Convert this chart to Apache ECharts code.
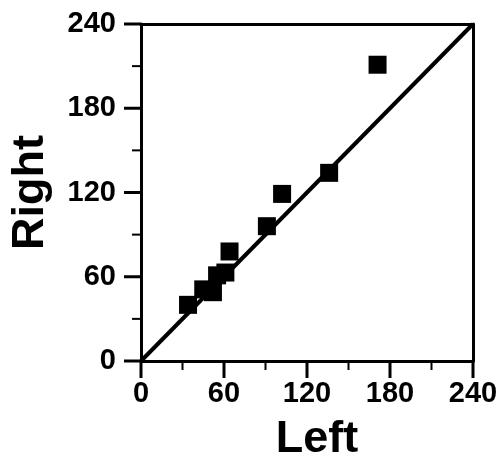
<!DOCTYPE html>
<html>
<head>
<meta charset="utf-8">
<script src="https://cdn.jsdelivr.net/npm/echarts@6/dist/echarts.min.js"></script>
<style>html,body{margin:0;padding:0;background:#fff}#c{width:504px;height:470px}</style>
</head>
<body>
<div id="c"></div>
<script>
const leftValues  = [34, 45, 52, 55, 61, 64, 91, 102, 136, 171];
const rightValues = [40, 51, 49, 61, 63, 78, 96, 119, 134, 211];
const identityLine = [[0, 0], [240, 240]];
const majorTicks = [0, 60, 120, 180, 240];
const minorTicks = [30, 90, 150, 210];
const axisMin = 0, axisMax = 240, axisStep = 60;
const xName = 'Left', yName = 'Right';

const points = leftValues.map((v, i) => [v, rightValues[i]]);
const font = '"Liberation Sans", Arial, Helvetica, sans-serif';

function axis(name, isX) {
  return {
    type: 'value', min: axisMin, max: axisMax, interval: axisStep,
    name: name, nameLocation: 'middle',
    nameGap: isX ? 56 : 88,
    nameTextStyle: {
      fontFamily: font, fontWeight: 'bold', fontSize: 45, color: '#000',
      padding: isX ? [0, 0, 0, 20] : [0, 0, 0, 0]
    },
    axisLine: { show: true, onZero: false, lineStyle: { color: '#000', width: 3 } },
    axisTick: { show: false },
    minorTick: { show: false },
    axisLabel: {
      fontFamily: font, fontWeight: 'bold', fontSize: 29, color: '#000',
      margin: isX ? 18 : 25,
      backgroundColor: 'transparent', textBorderWidth: 0, padding: 0
    },
    splitLine: { show: false }
  };
}

function frameAxis(position) {
  return {
    type: 'value', min: axisMin, max: axisMax, interval: axisStep, position: position,
    axisLine: { show: true, onZero: false, lineStyle: { color: '#000', width: 3 } },
    axisTick: { show: false }, minorTick: { show: false },
    axisLabel: { show: false }, splitLine: { show: false }
  };
}

const chart = echarts.init(document.getElementById('c'), null, { renderer: 'canvas' });
chart.setOption({
  animation: false,
  backgroundColor: '#fff',
  grid: { left: 141, right: 31, top: 24, bottom: 109 },
  xAxis: [axis(xName, true), frameAxis('top')],
  yAxis: [axis(yName, false), frameAxis('right')],
  series: [
    {
      type: 'line', data: identityLine, symbol: 'none',
      lineStyle: { color: '#000', width: 4 }, z: 2
    },
    {
      type: 'scatter', data: points, symbol: 'rect', symbolSize: 18,
      itemStyle: { color: '#000', opacity: 1 }, z: 3
    }
  ]
});

// Outward tick marks placed through the chart's own axis scales
const px = v => chart.convertToPixel({ xAxisIndex: 0 }, v);
const py = v => chart.convertToPixel({ yAxisIndex: 0 }, v);
const xAxisY = py(axisMin), yAxisX = px(axisMin);
const tickEls = [];
function addTicks(values, len, w) {
  values.forEach(v => {
    const x = px(v), y = py(v);
    tickEls.push({ type: 'rect', silent: true, zlevel: 1, z: 100,
      shape: { x: x - w / 2, y: xAxisY, width: w, height: len },
      style: { fill: '#000' } });
    tickEls.push({ type: 'rect', silent: true, zlevel: 1, z: 100,
      shape: { x: yAxisX - len, y: y - w / 2, width: len, height: w },
      style: { fill: '#000' } });
  });
}
addTicks(majorTicks, 17, 3);
addTicks(minorTicks, 9, 2);
chart.setOption({ graphic: { elements: tickEls } });
</script>
</body>
</html>
